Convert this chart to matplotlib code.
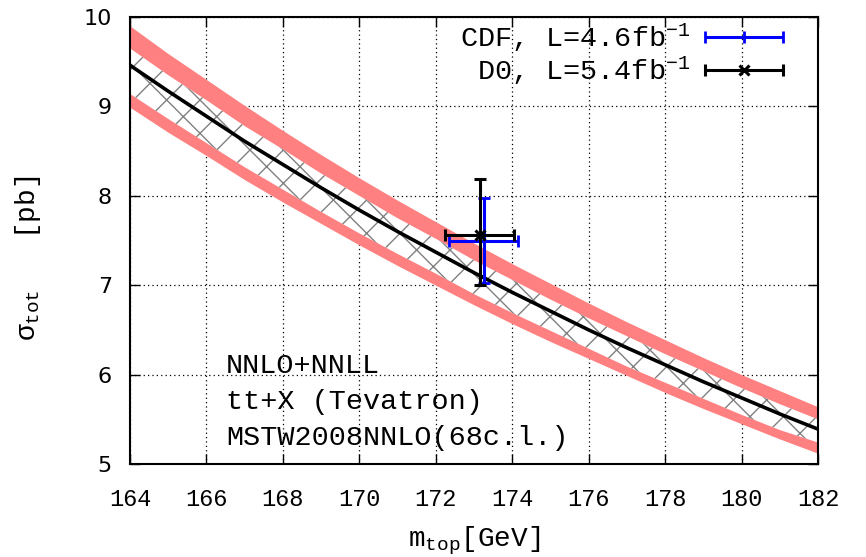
import numpy as np
import matplotlib
matplotlib.use("Agg")
import matplotlib.pyplot as plt
from matplotlib.legend_handler import HandlerErrorbar

mono = "Liberation Mono"
plt.rcParams["font.family"] = [mono, "DejaVu Sans"]
plt.rcParams["mathtext.fontset"] = "custom"
plt.rcParams["mathtext.rm"] = mono
plt.rcParams["mathtext.it"] = mono
plt.rcParams["hatch.linewidth"] = 1.0
plt.rcParams["hatch.color"] = "#808080"

# top mass grid [GeV]
mtop = [164, 165, 166, 167, 168, 169, 170, 171, 172, 173,
        174, 175, 176, 177, 178, 179, 180, 181, 182]
# NNLO+NNLL total cross section [pb]
sigma_central = [9.46, 9.17, 8.89, 8.61, 8.35, 8.09, 7.84, 7.60, 7.37, 7.14,
                 6.92, 6.71, 6.50, 6.30, 6.11, 5.92, 5.74, 5.56, 5.39]
# inner (hatched) uncertainty band
hatch_hi = [9.65, 9.35, 9.07, 8.78, 8.52, 8.25, 8.00, 7.75, 7.52, 7.28,
            7.06, 6.84, 6.63, 6.43, 6.23, 6.04, 5.85, 5.67, 5.50]
hatch_lo = [9.14, 8.86, 8.59, 8.32, 8.07, 7.82, 7.58, 7.35, 7.13, 6.90,
            6.69, 6.49, 6.29, 6.09, 5.91, 5.73, 5.55, 5.38, 5.24]
# outer (total) uncertainty band
band_hi = [9.90, 9.59, 9.30, 9.01, 8.73, 8.46, 8.20, 7.95, 7.71, 7.47,
           7.24, 7.02, 6.80, 6.59, 6.39, 6.19, 6.00, 5.82, 5.64]
band_lo = [8.99, 8.71, 8.45, 8.18, 7.93, 7.69, 7.45, 7.22, 7.00, 6.78,
           6.57, 6.37, 6.18, 5.99, 5.80, 5.62, 5.45, 5.28, 5.12]

# Tevatron measurements
cdf_m, cdf_m_err = 173.25, 0.9
cdf_sigma, cdf_sigma_err = 7.50, 0.48
d0_m, d0_m_err = 173.15, 0.9
d0_sigma, d0_err_lo, d0_err_hi = 7.56, 0.56, 0.63

xticks = [164, 166, 168, 170, 172, 174, 176, 178, 180, 182]
yticks = [5, 6, 7, 8, 9, 10]

fig = plt.figure(figsize=(8.66, 5.57), dpi=100)
ax = fig.add_axes([130 / 866, 1 - 464 / 557, 688 / 866, 447 / 557])

ax.fill_between(mtop, band_lo, band_hi, color="#ff8080", linewidth=0, zorder=1)
ax.fill_between(mtop, hatch_lo, hatch_hi, facecolor="white", edgecolor="#808080",
                hatch="x", linewidth=0, zorder=2)
ax.plot(mtop, sigma_central, color="black", lw=2.6, zorder=3)

cdf = ax.errorbar([cdf_m], [cdf_sigma], xerr=[cdf_m_err], yerr=[cdf_sigma_err],
                  fmt="+", color="blue", ms=8, mew=2, elinewidth=2.2,
                  capsize=4.5, capthick=2.5, zorder=4,
                  label=r"CDF, L=4.6fb$^{-1}$")
d0 = ax.errorbar([d0_m], [d0_sigma], xerr=[d0_m_err],
                 yerr=[[d0_err_lo], [d0_err_hi]],
                 fmt="x", color="black", ms=7, mew=2.2, elinewidth=2.2,
                 capsize=4.5, capthick=2.5, zorder=5,
                 label=r"D0, L=5.4fb$^{-1}$")

ax.set_xlim(164, 182)
ax.set_ylim(5, 10)
ax.set_xticks(xticks)
ax.set_yticks(yticks)
ax.grid(True, color="black", linestyle=(0, (1, 2.5)), linewidth=0.9)
ax.set_axisbelow(True)
ax.tick_params(direction="in", length=7, width=1, top=True, right=True)
ax.tick_params(axis="x", pad=17, labelsize=17)
ax.tick_params(axis="y", pad=13, labelsize=16)
for lab in ax.get_yticklabels():
    lab.set_family("DejaVu Sans")
for sp in ax.spines.values():
    sp.set_linewidth(1.5)

ax.set_xlabel(r"m$_{\rm top}$[GeV]", fontsize=20, labelpad=10)
ax.set_ylabel(r"$\sigma_{\rm tot}$   [pb]", fontsize=20)
ax.yaxis.set_label_coords(-0.127, 0.46)

notes = ["NNLO+NNLL", "tt+X (Tevatron)", "MSTW2008NNLO(68c.l.)"]
for i, s in enumerate(notes):
    ax.text(0.1395, 0.2036 - i * 0.0805, s, transform=ax.transAxes,
            fontsize=20.5, va="baseline", ha="left")

ax.legend(handles=[cdf, d0], loc="upper right",
          bbox_to_anchor=((783 - 130) / 688, 0.99), borderaxespad=0,
          borderpad=0, frameon=False, markerfirst=False, fontsize=20.5,
          handlelength=2.74, handletextpad=0.5, labelspacing=0.0,
          handler_map={cdf: HandlerErrorbar(xerr_size=1.37, yerr_size=0.0),
                       d0: HandlerErrorbar(xerr_size=1.37, yerr_size=0.0)})

fig.savefig("out.png", dpi=100, facecolor="white")
